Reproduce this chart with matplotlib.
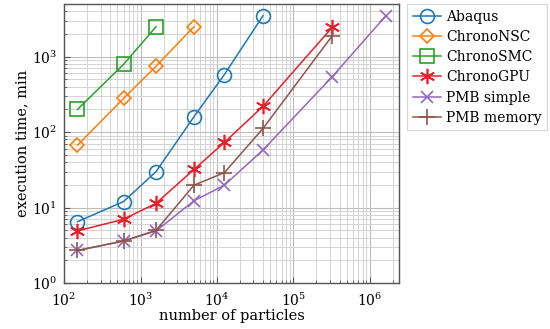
import matplotlib
matplotlib.use("Agg")
import matplotlib.pyplot as plt
from matplotlib.ticker import LogLocator, NullFormatter

plt.rcParams['font.family'] = ['DejaVu Serif']
plt.rcParams['mathtext.fontset'] = 'dejavuserif'

abaqus_x = [150, 600, 1600, 5000, 12500, 40000]
abaqus_y = [6.5, 12, 30, 160, 580, 3500]
nsc_x = [150, 600, 1600, 5000]
nsc_y = [67, 280, 750, 2500]
smc_x = [150, 600, 1600]
smc_y = [200, 790, 2500]
gpu_x = [150, 600, 1600, 5000, 12500, 40000, 320000]
gpu_y = [4.9, 7.0, 11.4, 32, 73, 220, 2440]
pmbs_x = [150, 600, 1600, 5000, 12500, 40000, 320000, 1600000]
pmbs_y = [2.7, 3.6, 4.9, 12.3, 19.8, 58, 540, 3450]
pmbm_x = [150, 600, 1600, 5000, 12500, 40000, 320000]
pmbm_y = [2.7, 3.6, 5.0, 19.8, 29, 112, 1880]

series = [
    ("Abaqus", abaqus_x, abaqus_y, '#1f77b4', 'o', 10),
    ("ChronoNSC", nsc_x, nsc_y, '#ff7f0e', 'D', 7),
    ("ChronoSMC", smc_x, smc_y, '#2ca02c', 's', 10),
    ("ChronoGPU", gpu_x, gpu_y, '#e8202a', (6, 2, 0), 11),
    ("PMB simple", pmbs_x, pmbs_y, '#9467bd', 'x', 9),
    ("PMB memory", pmbm_x, pmbm_y, '#8c564b', '+', 12),
]

fig = plt.figure(figsize=(5.5, 3.29), dpi=100)
ax = fig.add_axes([0.1164, 0.1398, 0.6091, 0.8482])

for name, x, y, c, m, ms in series:
    ax.plot(x, y, color=c, marker=m, markersize=ms, markerfacecolor='none',
            markeredgecolor=c, markeredgewidth=1.2, linewidth=1.1, label=name)

ax.set_xscale('log')
ax.set_yscale('log')
ax.set_xlim(100, 2.4e6)
ax.set_ylim(1, 5000)
ax.xaxis.set_major_locator(LogLocator(base=10, numticks=10))
ax.yaxis.set_major_locator(LogLocator(base=10, numticks=10))
ax.xaxis.set_minor_locator(LogLocator(base=10, subs=range(2, 10), numticks=20))
ax.yaxis.set_minor_locator(LogLocator(base=10, subs=range(2, 10), numticks=20))
ax.xaxis.set_minor_formatter(NullFormatter())
ax.yaxis.set_minor_formatter(NullFormatter())
ax.grid(True, which='major', color='#bdbdbd', linewidth=0.8)
ax.grid(True, which='minor', color='#d3d3d3', linewidth=0.7)
ax.set_axisbelow(True)
ax.tick_params(which='both', direction='in', color='#555555', labelsize=10)
ax.tick_params(which='major', length=4)
ax.tick_params(which='minor', length=2)
ax.tick_params(axis='x', which='major', pad=6)
ax.tick_params(axis='y', which='major', pad=5)
for s in ax.spines.values():
    s.set_color('#555555')
    s.set_linewidth(1.0)

ax.set_xlabel('number of particles', fontsize=10.5, labelpad=0)
ax.set_ylabel('execution time, min', fontsize=10.5, labelpad=2)

leg = ax.legend(loc='upper left', bbox_to_anchor=(1.025, 1.0), fontsize=10,
                frameon=True, fancybox=False, edgecolor='#cccccc',
                handlelength=2.0, handletextpad=0.4, borderpad=0.4,
                labelspacing=0.45, borderaxespad=0)
leg.get_frame().set_linewidth(0.8)

fig.savefig('out.png', dpi=100)
